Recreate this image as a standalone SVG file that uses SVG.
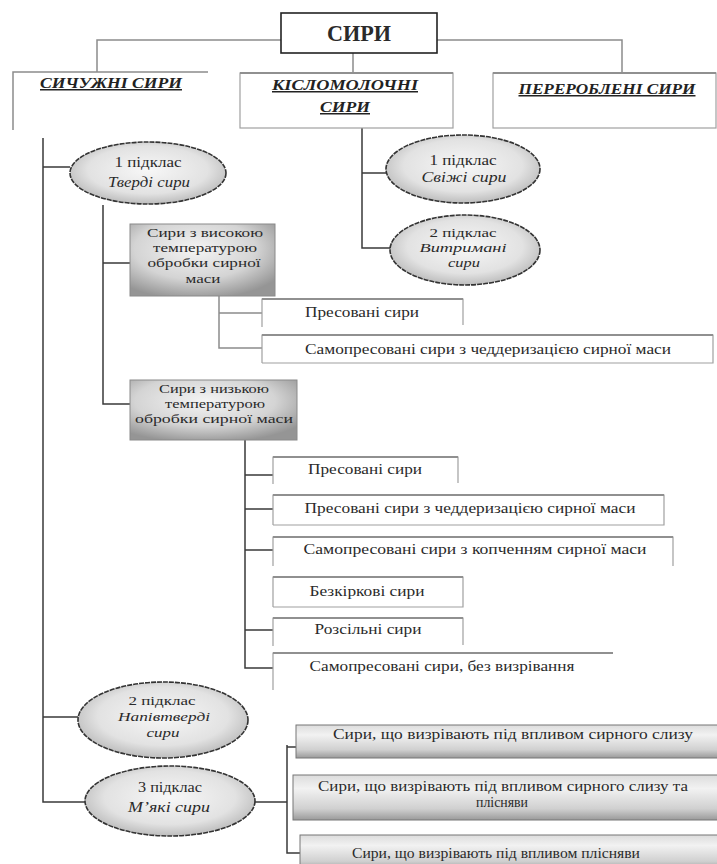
<svg xmlns="http://www.w3.org/2000/svg" width="717" height="864" viewBox="0 0 717 864">
<defs>
<radialGradient id="gEll" cx="0.5" cy="0.45" r="0.55">
<stop offset="0" stop-color="#f7f7f7"/><stop offset="0.7" stop-color="#e2e2e2"/><stop offset="1" stop-color="#bdbdbd"/>
</radialGradient>
<radialGradient id="gTemp" cx="0.45" cy="0.35" r="0.7">
<stop offset="0" stop-color="#f4f4f4"/><stop offset="0.6" stop-color="#d4d4d4"/><stop offset="1" stop-color="#959595"/>
</radialGradient>
<linearGradient id="gSoft" x1="0" y1="0" x2="0" y2="1">
<stop offset="0" stop-color="#dcdcdc"/><stop offset="0.3" stop-color="#f2f2f2"/><stop offset="0.75" stop-color="#d0d0d0"/><stop offset="1" stop-color="#9a9a9a"/>
</linearGradient>
<style>
.c{fill:none;stroke:#8c8c8c;stroke-width:1.5}
.d{fill:none;stroke:#3a3a3a;stroke-width:1.5}
.t{font-family:'Liberation Serif','DejaVu Serif',serif;font-size:15px;fill:#2a2a2a;text-anchor:middle}
.s{font-size:13px}
.i{font-style:italic}
.h{font-family:'Liberation Serif','DejaVu Serif',serif;font-size:15px;font-weight:bold;font-style:italic;text-decoration:underline;fill:#222;text-anchor:middle}
.ell{fill:url(#gEll);stroke:#333;stroke-width:1.6;stroke-dasharray:5 1}
.tmp{fill:url(#gTemp);stroke:#8a8a8a;stroke-width:1}
.soft{fill:url(#gSoft);stroke:#777;stroke-width:1}
.ob{fill:#fff;stroke:#a0a0a0;stroke-width:1.2}
.obt{fill:none;stroke:#909090;stroke-width:2.2}
</style>
</defs>

<g id="connectors">
<path class="c" d="M281 40H97V72M437 40H622V74M353 53V73"/>
<path class="c" d="M13 130V72H208"/>
<path class="d" d="M43 138V802H85M43 167H70M43 717H78"/>
<path class="d" d="M362 128V248H390M362 173H387"/>
<path class="d" d="M103 205V404H130M103 263H130"/>
<path class="c" d="M219 296V348H262M219 313H262"/>
<path class="d" d="M245 440V668H273M245 475H273M245 509H273M245 550H273M245 630H273"/>
<path class="d" d="M255 802H287M287 745V853H300M287 747H296"/>
</g>

<g id="root">
<rect x="281" y="13" width="156" height="40" fill="#fff" stroke="#222" stroke-width="1.6"/>
<text class="t" x="359" y="41" style="font-size:23px;font-weight:bold" textLength="64" lengthAdjust="spacingAndGlyphs">СИРИ</text>
</g>

<g id="sychuzhni">
<text class="h" x="111" y="88" textLength="142" lengthAdjust="spacingAndGlyphs">СИЧУЖНІ СИРИ</text>
</g>

<g id="kislomolochni">
<rect class="ob" x="240" y="73" width="213" height="55" fill="none"/>
<path class="obt" d="M240 73H453"/>
<text class="h" x="345" y="90" textLength="146" lengthAdjust="spacingAndGlyphs">КІСЛОМОЛОЧНІ</text>
<text class="h" x="345" y="112" textLength="50" lengthAdjust="spacingAndGlyphs">СИРИ</text>
</g>

<g id="pererobleni">
<rect class="ob" x="493" y="73" width="223" height="55"/>
<path class="obt" d="M493 73H716"/>
<text class="h" x="607" y="94" textLength="177" lengthAdjust="spacingAndGlyphs">ПЕРЕРОБЛЕНІ СИРИ</text>
</g>

<g id="tverdi">
<ellipse class="ell" cx="148" cy="173" rx="78" ry="31"/>
<text class="t" x="148" y="167" textLength="67" lengthAdjust="spacingAndGlyphs">1 підклас</text>
<text class="t i" x="149" y="187" textLength="82" lengthAdjust="spacingAndGlyphs">Тверді сири</text>
</g>

<g id="svizhi">
<ellipse class="ell" cx="463" cy="169" rx="77" ry="34"/>
<text class="t" x="463" y="165" textLength="67" lengthAdjust="spacingAndGlyphs">1 підклас</text>
<text class="t i" x="464" y="182" textLength="85" lengthAdjust="spacingAndGlyphs">Свіжі сири</text>
</g>

<g id="vytrymani">
<ellipse class="ell" cx="465" cy="250" rx="75" ry="35"/>
<text class="t s" x="463" y="237" textLength="67" lengthAdjust="spacingAndGlyphs">2 підклас</text>
<text class="t s i" x="463" y="252" textLength="87" lengthAdjust="spacingAndGlyphs">Витримані</text>
<text class="t s i" x="464" y="267" textLength="32" lengthAdjust="spacingAndGlyphs">сири</text>
</g>

<g id="high-temp">
<rect class="tmp" x="130" y="224" width="145" height="72"/>
<text class="t s" x="205" y="237" textLength="116" lengthAdjust="spacingAndGlyphs">Сири з високою</text>
<text class="t s" x="205" y="252" textLength="104" lengthAdjust="spacingAndGlyphs">температурою</text>
<text class="t s" x="204" y="267" textLength="113" lengthAdjust="spacingAndGlyphs">обробки сирної</text>
<text class="t s" x="203" y="283" textLength="35" lengthAdjust="spacingAndGlyphs">маси</text>
</g>

<g id="hp-presovani">
<path class="ob" d="M262 327V299H463V325"/>
<path class="obt" d="M262 299H463"/>
<text class="t" x="362" y="317" textLength="114" lengthAdjust="spacingAndGlyphs">Пресовані сири</text>
</g>

<g id="hp-samopresovani">
<path class="ob" d="M262 363V335H713V363H262"/>
<path class="obt" d="M262 335H713"/>
<text class="t" x="488" y="354" textLength="366" lengthAdjust="spacingAndGlyphs">Самопресовані сири з чеддеризацією сирної маси</text>
</g>

<g id="low-temp">
<rect class="tmp" x="130" y="380" width="167" height="60"/>
<text class="t s" x="214" y="393" textLength="110" lengthAdjust="spacingAndGlyphs">Сири з низькою</text>
<text class="t s" x="215" y="408" textLength="100" lengthAdjust="spacingAndGlyphs">температурою</text>
<text class="t s" x="214" y="423" textLength="158" lengthAdjust="spacingAndGlyphs">обробки сирної маси</text>
</g>

<g id="lp-presovani">
<path class="ob" d="M273 484V457H458V483"/>
<path class="obt" d="M273 457H458"/>
<text class="t" x="365" y="474" textLength="114" lengthAdjust="spacingAndGlyphs">Пресовані сири</text>
</g>

<g id="lp-presovani-ched">
<path class="ob" d="M273 525V495H664V525H273"/>
<path class="obt" d="M273 495H664"/>
<text class="t" x="470" y="513" textLength="331" lengthAdjust="spacingAndGlyphs">Пресовані сири з чеддеризацією сирної маси</text>
</g>

<g id="lp-kopchennia">
<path class="ob" d="M273 566V537H673V566"/>
<path class="obt" d="M273 537H673"/>
<text class="t" x="475" y="554" textLength="343" lengthAdjust="spacingAndGlyphs">Самопресовані сири з копченням сирної маси</text>
</g>

<g id="lp-bezkirkovi">
<path class="ob" d="M273 607V577H463V607H273"/>
<path class="obt" d="M273 577H463"/>
<text class="t" x="367" y="596" textLength="115" lengthAdjust="spacingAndGlyphs">Безкіркові сири</text>
</g>

<g id="lp-rozsilni">
<path class="ob" d="M273 646V618H463V645"/>
<path class="obt" d="M273 618H463"/>
<text class="t" x="368" y="634" textLength="107" lengthAdjust="spacingAndGlyphs">Розсільні сири</text>
</g>

<g id="lp-bez-vyzrivannia">
<path class="ob" d="M273 690V653H613"/>
<path class="obt" d="M273 653H613"/>
<text class="t" x="442" y="671" textLength="265" lengthAdjust="spacingAndGlyphs">Самопресовані сири, без визрівання</text>
</g>

<g id="napivtverdi">
<ellipse class="ell" cx="163" cy="720" rx="85" ry="38"/>
<text class="t s" x="162" y="705" textLength="67" lengthAdjust="spacingAndGlyphs">2 підклас</text>
<text class="t s i" x="164" y="721" textLength="92" lengthAdjust="spacingAndGlyphs">Напівтверді</text>
<text class="t s i" x="163" y="737" textLength="33" lengthAdjust="spacingAndGlyphs">сири</text>
</g>

<g id="miaki">
<ellipse class="ell" cx="170" cy="801" rx="85" ry="35"/>
<text class="t" x="170" y="792" textLength="64" lengthAdjust="spacingAndGlyphs">3 підклас</text>
<text class="t i" x="169" y="812" textLength="82" lengthAdjust="spacingAndGlyphs">М’які сири</text>
</g>

<g id="soft-slyz">
<rect class="soft" x="296" y="725" width="425" height="33"/>
<text class="t" x="513" y="739" textLength="360" lengthAdjust="spacingAndGlyphs">Сири, що визрівають під впливом сирного слизу</text>
</g>

<g id="soft-slyz-plisniava">
<rect class="soft" x="293" y="775" width="428" height="45"/>
<text class="t" x="503" y="791" textLength="370" lengthAdjust="spacingAndGlyphs">Сири, що визрівають під впливом сирного слизу та</text>
<text class="t" x="502" y="807" textLength="52" lengthAdjust="spacingAndGlyphs">плісняви</text>
</g>

<g id="soft-plisniava">
<rect class="soft" x="300" y="835" width="421" height="35"/>
<text class="t" x="496" y="858" textLength="288" lengthAdjust="spacingAndGlyphs">Сири, що визрівають під впливом плісняви</text>
</g>
</svg>
